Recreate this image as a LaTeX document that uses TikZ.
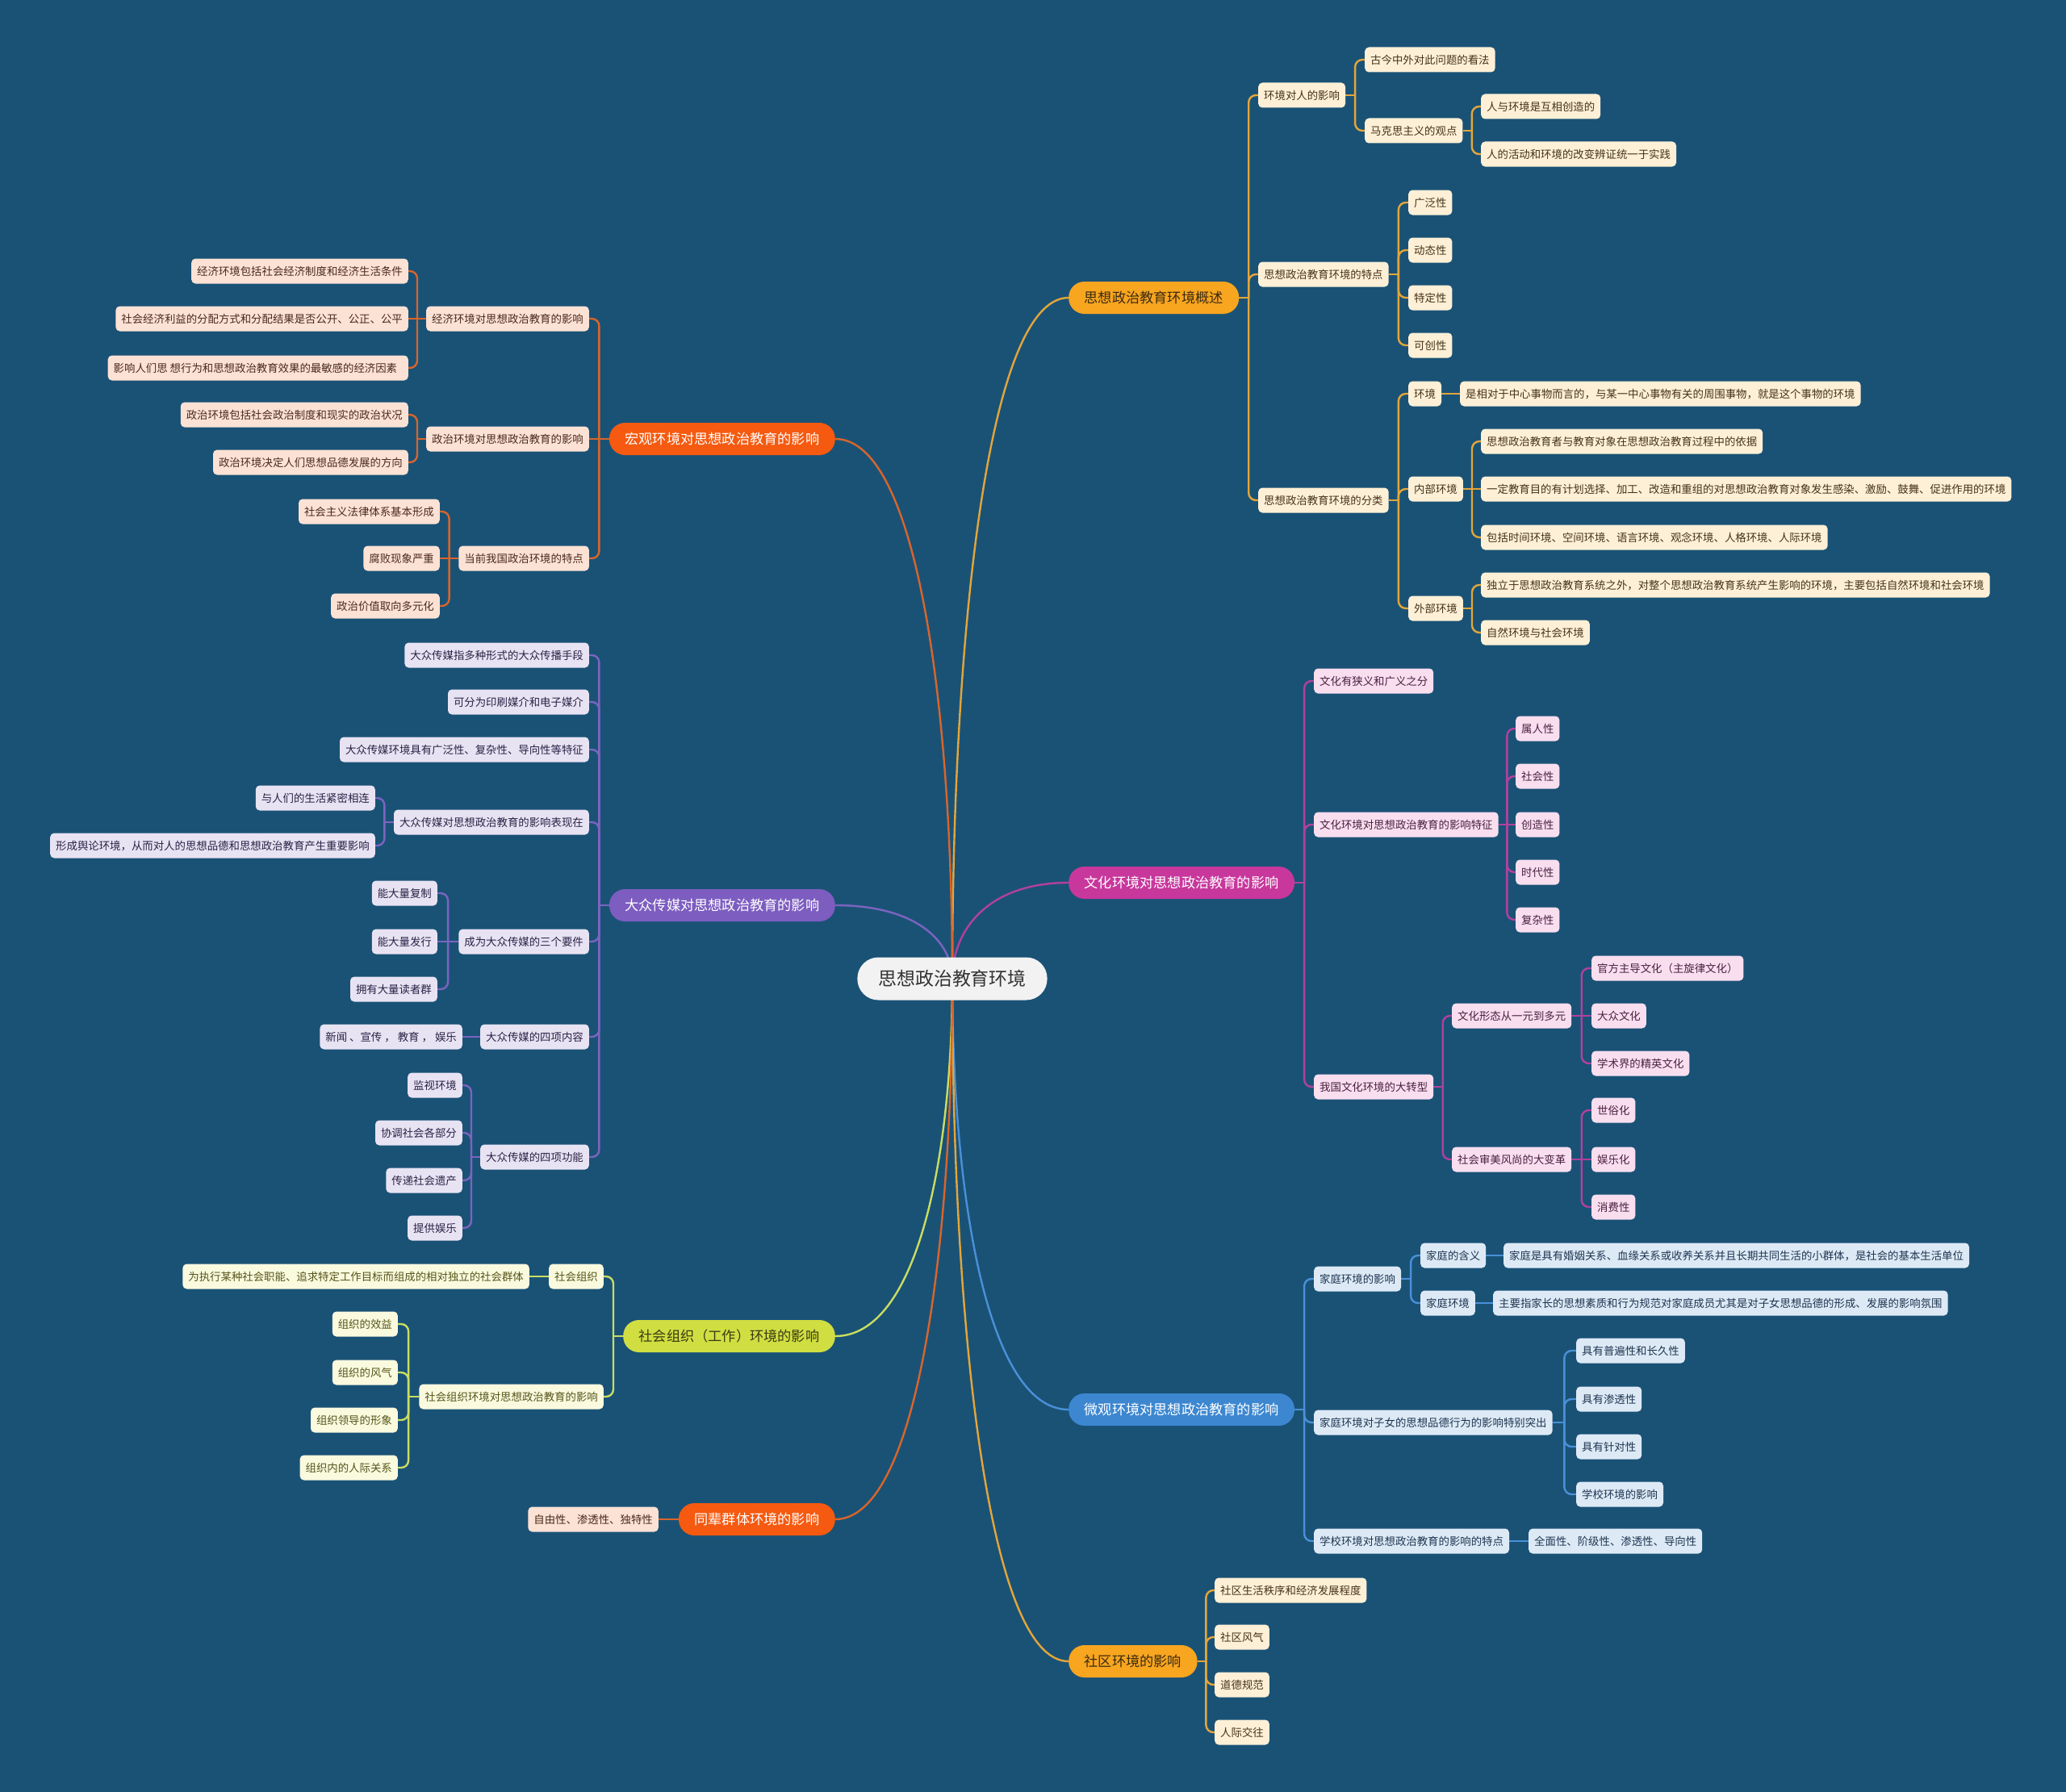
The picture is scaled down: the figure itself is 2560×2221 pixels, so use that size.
\documentclass[tikz,border=0pt]{standalone}
\usepackage{fontspec}
\setmainfont{Noto Sans CJK SC}
\usetikzlibrary{calc}
\pgfdeclarelayer{back}\pgfdeclarelayer{bg}
\pgfsetlayers{back,bg,main}
\definecolor{bgc}{HTML}{1A5276}
\definecolor{rootF}{HTML}{F2F2F2}\definecolor{rootT}{HTML}{333333}
\definecolor{oyM}{HTML}{F8A51F}\definecolor{oyL}{HTML}{E3A63A}\definecolor{oyC}{HTML}{FDF0D6}\definecolor{oyT}{HTML}{45331A}\definecolor{oyMT}{HTML}{3B2B12}
\definecolor{roM}{HTML}{F55A10}\definecolor{roL}{HTML}{D9652B}\definecolor{roC}{HTML}{FCE2D5}\definecolor{roT}{HTML}{4A2A1C}
\definecolor{mgM}{HTML}{C8379C}\definecolor{mgL}{HTML}{B2409F}\definecolor{mgC}{HTML}{F8DEEF}\definecolor{mgT}{HTML}{4A2040}
\definecolor{blM}{HTML}{3C87D0}\definecolor{blL}{HTML}{4A90D8}\definecolor{blC}{HTML}{DDEAF6}\definecolor{blT}{HTML}{1F3550}
\definecolor{puM}{HTML}{7D5DC0}\definecolor{puL}{HTML}{7C64C0}\definecolor{puC}{HTML}{E8E3F3}\definecolor{puT}{HTML}{2A2245}
\definecolor{grM}{HTML}{D0DE42}\definecolor{grL}{HTML}{CADD60}\definecolor{grC}{HTML}{FAFADF}\definecolor{grT}{HTML}{55551C}\definecolor{grMT}{HTML}{3A3A12}
\tikzset{
 lf/.style={rounded corners=5pt, inner xsep=7pt, inner ysep=0pt, minimum height=31pt,
   font=\fontsize{13.4pt}{16pt}\selectfont, text height=11.8pt, text depth=1.6pt},
 lfR/.style={lf, anchor=west}, lfL/.style={lf, anchor=east},
 mn/.style={rounded corners=19.5pt, inner xsep=19.5pt, inner ysep=0pt, minimum height=40pt,
   font=\fontsize{17.2pt}{20pt}\selectfont, text height=15.1pt, text depth=2.1pt},
 mnR/.style={mn, anchor=west}, mnL/.style={mn, anchor=east},
 rootn/.style={rounded corners=26pt, inner xsep=26pt, inner ysep=0pt, minimum height=53pt,
   font=\fontsize{22.9pt}{26pt}\selectfont, text height=20.2pt, text depth=2.7pt, fill=rootF, text=rootT},
 cA/.style={fill=oyC, text=oyT}, mA/.style={fill=oyM, text=oyMT},
 cE/.style={fill=roC, text=roT}, mE/.style={fill=roM, text=white},
 cB/.style={fill=mgC, text=mgT}, mB/.style={fill=mgM, text=white},
 cC/.style={fill=blC, text=blT}, mC/.style={fill=blM, text=white},
 cF/.style={fill=puC, text=puT}, mF/.style={fill=puM, text=white},
 cG/.style={fill=grC, text=grT}, mG/.style={fill=grM, text=grMT},
 ln/.style={line width=2.4pt},
 lA/.style={ln, draw=oyL}, lE/.style={ln, draw=roL}, lB/.style={ln, draw=mgL},
 lC/.style={ln, draw=blL}, lF/.style={ln, draw=puL}, lG/.style={ln, draw=grL}
}
\newcommand\RLink[3]{%
 \draw[#1] (#2.east) -- ($(#2.east)!0.5!(#2.east -| #3.west)$);
 \draw[#1, rounded corners=9pt] ($(#2.east)!0.5!(#2.east -| #3.west)$) -- ($(#3.west)!0.5!(#3.west -| #2.east)$) -- (#3.west);}
\newcommand\LLink[3]{%
 \draw[#1] (#2.west) -- ($(#2.west)!0.5!(#2.west -| #3.east)$);
 \draw[#1, rounded corners=9pt] ($(#2.west)!0.5!(#2.west -| #3.east)$) -- ($(#3.east)!0.5!(#3.east -| #2.west)$) -- (#3.east);}
\newcommand\RStraight[3]{\draw[#1] (#2.east) -- (#2.east -| #3.west);}
\newcommand\LStraight[3]{\draw[#1] (#2.west) -- (#2.west -| #3.east);}
\newcommand\MLink[3]{%
 \draw[#1] (root.center) .. controls ($(root.center)!0.5!(root.center |- #2.#3)$) and ($(root.center |- #2.#3)!0.3!(#2.#3)$) .. (#2.#3);}
\begin{document}
\begin{tikzpicture}[x=1pt,y=-1pt]
\begin{pgfonlayer}{back}
\fill[bgc] (0,0) rectangle (2560,2221);
\end{pgfonlayer}
\useasboundingbox (0,0) rectangle (2560,2221);

\node[rootn] (root) at (1180,1213) {思想政治教育环境};

% ---------- A ----------
\node[mnR,mA] (A) at (1324,369) {思想政治教育环境概述};
\node[lfR,cA] (A1) at (1559,118) {环境对人的影响};
\node[lfR,cA] (A1a) at (1691,74) {古今中外对此问题的看法};
\node[lfR,cA] (A1b) at (1691,162) {马克思主义的观点};
\node[lfR,cA] (A1b1) at (1835,132) {人与环境是互相创造的};
\node[lfR,cA] (A1b2) at (1835,191) {人的活动和环境的改变辨证统一于实践};
\node[lfR,cA] (A2) at (1559,340) {思想政治教育环境的特点};
\node[lfR,cA] (A2a) at (1745,251) {广泛性};
\node[lfR,cA] (A2b) at (1745,310) {动态性};
\node[lfR,cA] (A2c) at (1745,369) {特定性};
\node[lfR,cA] (A2d) at (1745,428) {可创性};
\node[lfR,cA] (A3) at (1559,620) {思想政治教育环境的分类};
\node[lfR,cA] (A3a) at (1745,488) {环境};
\node[lfR,cA] (A3a1) at (1809,488) {是相对于中心事物而言的，与某一中心事物有关的周围事物，就是这个事物的环境};
\node[lfR,cA] (A3b) at (1745,606) {内部环境};
\node[lfR,cA] (A3b1) at (1835,547) {思想政治教育者与教育对象在思想政治教育过程中的依据};
\node[lfR,cA] (A3b2) at (1835,606) {一定教育目的有计划选择、加工、改造和重组的对思想政治教育对象发生感染、激励、鼓舞、促进作用的环境};
\node[lfR,cA] (A3b3) at (1835,666) {包括时间环境、空间环境、语言环境、观念环境、人格环境、人际环境};
\node[lfR,cA] (A3c) at (1745,754) {外部环境};
\node[lfR,cA] (A3c1) at (1835,725) {独立于思想政治教育系统之外，对整个思想政治教育系统产生影响的环境，主要包括自然环境和社会环境};
\node[lfR,cA] (A3c2) at (1835,784) {自然环境与社会环境};

% ---------- B ----------
\node[mnR,mB] (B) at (1324,1094) {文化环境对思想政治教育的影响};
\node[lfR,cB] (B1) at (1628,844) {文化有狭义和广义之分};
\node[lfR,cB] (B2) at (1628,1022) {文化环境对思想政治教育的影响特征};
\node[lfR,cB] (B2a) at (1878,903) {属人性};
\node[lfR,cB] (B2b) at (1878,962) {社会性};
\node[lfR,cB] (B2c) at (1878,1022) {创造性};
\node[lfR,cB] (B2d) at (1878,1081) {时代性};
\node[lfR,cB] (B2e) at (1878,1140) {复杂性};
\node[lfR,cB] (B3) at (1628,1347) {我国文化环境的大转型};
\node[lfR,cB] (B3a) at (1799,1259) {文化形态从一元到多元};
\node[lfR,cB] (B3a1) at (1972,1200) {官方主导文化（主旋律文化）};
\node[lfR,cB] (B3a2) at (1972,1259) {大众文化};
\node[lfR,cB] (B3a3) at (1972,1318) {学术界的精英文化};
\node[lfR,cB] (B3b) at (1799,1437) {社会审美风尚的大变革};
\node[lfR,cB] (B3b1) at (1972,1376) {世俗化};
\node[lfR,cB] (B3b2) at (1972,1437) {娱乐化};
\node[lfR,cB] (B3b3) at (1972,1496) {消费性};

% ---------- C ----------
\node[mnR,mC] (C) at (1324,1747) {微观环境对思想政治教育的影响};
\node[lfR,cC] (C1) at (1628,1585) {家庭环境的影响};
\node[lfR,cC] (C1a) at (1760,1556) {家庭的含义};
\node[lfR,cC] (C1a1) at (1863,1556) {家庭是具有婚姻关系、血缘关系或收养关系并且长期共同生活的小群体，是社会的基本生活单位};
\node[lfR,cC] (C1b) at (1760,1615) {家庭环境};
\node[lfR,cC] (C1b1) at (1850,1615) {主要指家长的思想素质和行为规范对家庭成员尤其是对子女思想品德的形成、发展的影响氛围};
\node[lfR,cC] (C2) at (1628,1763) {家庭环境对子女的思想品德行为的影响特别突出};
\node[lfR,cC] (C2a) at (1953,1674) {具有普遍性和长久性};
\node[lfR,cC] (C2b) at (1953,1734) {具有渗透性};
\node[lfR,cC] (C2c) at (1953,1793) {具有针对性};
\node[lfR,cC] (C2d) at (1953,1852) {学校环境的影响};
\node[lfR,cC] (C3) at (1628,1910) {学校环境对思想政治教育的影响的特点};
\node[lfR,cC] (C3a) at (1894,1910) {全面性、阶级性、渗透性、导向性};

% ---------- D ----------
\node[mnR,mA] (D) at (1324,2059) {社区环境的影响};
\node[lfR,cA] (D1) at (1505,1971) {社区生活秩序和经济发展程度};
\node[lfR,cA] (D2) at (1505,2029) {社区风气};
\node[lfR,cA] (D3) at (1505,2088) {道德规范};
\node[lfR,cA] (D4) at (1505,2147) {人际交往};

% ---------- E ----------
\node[mnL,mE] (E) at (1035,544) {宏观环境对思想政治教育的影响};
\node[lfL,cE] (E1) at (730,395) {经济环境对思想政治教育的影响};
\node[lfL,cE] (E1a) at (506,336) {经济环境包括社会经济制度和经济生活条件};
\node[lfL,cE] (E1b) at (506,395) {社会经济利益的分配方式和分配结果是否公开、公正、公平};
\node[lfL,cE] (E1c) at (506,456) {影响人们思 想行为和思想政治教育效果的最敏感的经济因素\enspace};
\node[lfL,cE] (E2) at (730,544) {政治环境对思想政治教育的影响};
\node[lfL,cE] (E2a) at (506,514) {政治环境包括社会政治制度和现实的政治状况};
\node[lfL,cE] (E2b) at (506,573) {政治环境决定人们思想品德发展的方向};
\node[lfL,cE] (E3) at (730,692) {当前我国政治环境的特点};
\node[lfL,cE] (E3a) at (545,634) {社会主义法律体系基本形成};
\node[lfL,cE] (E3b) at (545,692) {腐败现象严重};
\node[lfL,cE] (E3c) at (545,751) {政治价值取向多元化};

% ---------- F ----------
\node[mnL,mF] (F) at (1035,1122) {大众传媒对思想政治教育的影响};
\node[lfL,cF] (F1) at (730,812) {大众传媒指多种形式的大众传播手段};
\node[lfL,cF] (F2) at (730,870) {可分为印刷媒介和电子媒介};
\node[lfL,cF] (F3) at (730,929) {大众传媒环境具有广泛性、复杂性、导向性等特征};
\node[lfL,cF] (F4) at (730,1019) {大众传媒对思想政治教育的影响表现在};
\node[lfL,cF] (F4a) at (465,989) {与人们的生活紧密相连};
\node[lfL,cF] (F4b) at (465,1048) {形成舆论环境，从而对人的思想品德和思想政治教育产生重要影响};
\node[lfL,cF] (F5) at (730,1167) {成为大众传媒的三个要件};
\node[lfL,cF] (F5a) at (542,1107) {能大量复制};
\node[lfL,cF] (F5b) at (542,1167) {能大量发行};
\node[lfL,cF] (F5c) at (542,1226) {拥有大量读者群};
\node[lfL,cF] (F6) at (730,1285) {大众传媒的四项内容};
\node[lfL,cF] (F6a) at (573,1285) {新闻 、宣传 ， 教育 ， 娱乐};
\node[lfL,cF] (F7) at (730,1434) {大众传媒的四项功能};
\node[lfL,cF] (F7a) at (573,1345) {监视环境};
\node[lfL,cF] (F7b) at (573,1404) {协调社会各部分};
\node[lfL,cF] (F7c) at (573,1463) {传递社会遗产};
\node[lfL,cF] (F7d) at (573,1522) {提供娱乐};

% ---------- G ----------
\node[mnL,mG] (G) at (1035,1656) {社会组织（工作）环境的影响};
\node[lfL,cG] (G1) at (748,1582) {社会组织};
\node[lfL,cG] (G1a) at (656,1582) {为执行某种社会职能、追求特定工作目标而组成的相对独立的社会群体};
\node[lfL,cG] (G2) at (748,1731) {社会组织环境对思想政治教育的影响};
\node[lfL,cG] (G2a) at (493,1641) {组织的效益};
\node[lfL,cG] (G2b) at (493,1701) {组织的风气};
\node[lfL,cG] (G2c) at (493,1760) {组织领导的形象};
\node[lfL,cG] (G2d) at (493,1819) {组织内的人际关系};

% ---------- H ----------
\node[mnL,mE] (H) at (1035,1883) {同辈群体环境的影响};
\node[lfL,cE] (H1) at (816,1883) {自由性、渗透性、独特性};

% ---------- connectors ----------
\begin{pgfonlayer}{bg}
\MLink{lA}{A}{west}
\MLink{lB}{B}{west}
\MLink{lC}{C}{west}
\MLink{lA}{D}{west}
\MLink{lE}{E}{east}
\MLink{lF}{F}{east}
\MLink{lG}{G}{east}
\MLink{lE}{H}{east}

\foreach \c in {A1,A2,A3}{\RLink{lA}{A}{\c}}
\foreach \c in {A1a,A1b}{\RLink{lA}{A1}{\c}}
\foreach \c in {A1b1,A1b2}{\RLink{lA}{A1b}{\c}}
\foreach \c in {A2a,A2b,A2c,A2d}{\RLink{lA}{A2}{\c}}
\foreach \c in {A3a,A3b,A3c}{\RLink{lA}{A3}{\c}}
\RStraight{lA}{A3a}{A3a1}
\foreach \c in {A3b1,A3b3}{\RLink{lA}{A3b}{\c}}
\RStraight{lA}{A3b}{A3b2}
\foreach \c in {A3c1,A3c2}{\RLink{lA}{A3c}{\c}}

\foreach \c in {B1,B2,B3}{\RLink{lB}{B}{\c}}
\foreach \c in {B2a,B2b,B2d,B2e}{\RLink{lB}{B2}{\c}}
\RStraight{lB}{B2}{B2c}
\foreach \c in {B3a,B3b}{\RLink{lB}{B3}{\c}}
\foreach \c in {B3a1,B3a3}{\RLink{lB}{B3a}{\c}}
\RStraight{lB}{B3a}{B3a2}
\foreach \c in {B3b1,B3b3}{\RLink{lB}{B3b}{\c}}
\RStraight{lB}{B3b}{B3b2}

\foreach \c in {C1,C2,C3}{\RLink{lC}{C}{\c}}
\foreach \c in {C1a,C1b}{\RLink{lC}{C1}{\c}}
\RStraight{lC}{C1a}{C1a1}
\RStraight{lC}{C1b}{C1b1}
\foreach \c in {C2a,C2b,C2c,C2d}{\RLink{lC}{C2}{\c}}
\RStraight{lC}{C3}{C3a}

\foreach \c in {D1,D2,D3,D4}{\RLink{lA}{D}{\c}}

\foreach \c in {E1,E3}{\LLink{lE}{E}{\c}}
\LStraight{lE}{E}{E2}
\foreach \c in {E1a,E1c}{\LLink{lE}{E1}{\c}}
\LStraight{lE}{E1}{E1b}
\foreach \c in {E2a,E2b}{\LLink{lE}{E2}{\c}}
\foreach \c in {E3a,E3c}{\LLink{lE}{E3}{\c}}
\LStraight{lE}{E3}{E3b}

\foreach \c in {F1,F2,F3,F4,F5,F6,F7}{\LLink{lF}{F}{\c}}
\foreach \c in {F4a,F4b}{\LLink{lF}{F4}{\c}}
\foreach \c in {F5a,F5c}{\LLink{lF}{F5}{\c}}
\LStraight{lF}{F5}{F5b}
\LStraight{lF}{F6}{F6a}
\foreach \c in {F7a,F7b,F7c,F7d}{\LLink{lF}{F7}{\c}}

\foreach \c in {G1,G2}{\LLink{lG}{G}{\c}}
\LStraight{lG}{G1}{G1a}
\foreach \c in {G2a,G2b,G2c,G2d}{\LLink{lG}{G2}{\c}}

\LStraight{lE}{H}{H1}
\end{pgfonlayer}
\end{tikzpicture}
\end{document}
